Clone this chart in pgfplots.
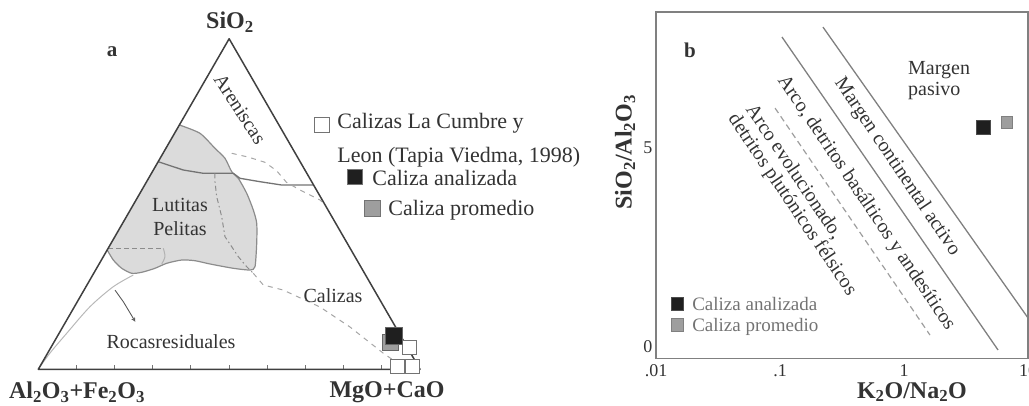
\documentclass[border=0pt]{standalone}
\usepackage{fontspec}
\setmainfont{Liberation Serif}
\usepackage{pgfplots}
\pgfplotsset{compat=1.18}
\definecolor{txt}{gray}{0.2}
\definecolor{frame}{gray}{0.5}
\definecolor{darksq}{gray}{0.12}
\definecolor{midsq}{gray}{0.62}
\definecolor{region}{gray}{0.86}
\begin{document}
\begin{tikzpicture}
\useasboundingbox (0,0) rectangle (1029pt,406pt);

% ---------------- ternary diagram (a) ----------------
\begin{axis}[
  at={(38.3pt,36.7pt)}, anchor=south west,
  scale only axis, width=381.7pt, height=331pt,
  xmin=0, xmax=1, ymin=0, ymax=0.8672,
  hide axis, clip=false,
  legend cell align=left,
  legend style={at={(0.7223,0.8166)}, anchor=north west, draw=none, fill=none,
    inner sep=0pt, outer sep=0pt, column sep=0pt, row sep=0pt,
    nodes={inner sep=0pt, outer sep=0pt, font=\fontsize{22pt}{26pt}\selectfont, text=txt}},
]
% Lutitas / Pelitas field
\addplot[forget plot, fill=region, draw=none, smooth, tension=0.4] coordinates {
 (0.370,0.640) (0.4236,0.6183) (0.4629,0.5790) (0.4891,0.5528) (0.5067,0.5177)
 (0.5240,0.5004) (0.5460,0.4611) (0.5633,0.4173) (0.5722,0.3825) (0.5722,0.3301)
 (0.5677,0.2688) (0.5546,0.2601) (0.5109,0.2646) (0.4498,0.2759) (0.4105,0.2845)
 (0.3757,0.2863) (0.3364,0.2777) (0.3057,0.2646) (0.2709,0.2541) (0.2447,0.2515)
 (0.2185,0.2646) (0.1965,0.2863) (0.1805,0.3126)} -- cycle;
\addplot[forget plot, draw=black!45, line width=1.2pt, smooth, tension=0.4] coordinates {
 (0.370,0.640) (0.4236,0.6183) (0.4629,0.5790) (0.4891,0.5528) (0.5067,0.5177)
 (0.5240,0.5004) (0.5460,0.4611) (0.5633,0.4173) (0.5722,0.3825) (0.5722,0.3301)
 (0.5677,0.2688) (0.5546,0.2601) (0.5109,0.2646) (0.4498,0.2759) (0.4105,0.2845)
 (0.3757,0.2863) (0.3364,0.2777) (0.3057,0.2646) (0.2709,0.2541) (0.2447,0.2515)
 (0.2185,0.2646) (0.1965,0.2863) (0.1805,0.3126)};
% boundary lines
\addplot[forget plot, draw=black!55, line width=1.3pt] coordinates {
 (0.3140,0.5439) (0.3799,0.5221) (0.4323,0.5135) (0.5109,0.5135) (0.5284,0.5004)
 (0.5808,0.4915) (0.6377,0.4828) (0.7212,0.4828)};
\addplot[forget plot, draw=black!35, line width=1pt, dash pattern=on 5pt off 5pt] coordinates {
 (0.5067,0.5659) (0.5500,0.5560) (0.5939,0.5423) (0.6246,0.5200) (0.6500,0.4900)
 (0.6856,0.4698) (0.7380,0.4436) (0.7500,0.4330)};
\addplot[forget plot, draw=black!45, line width=1pt, dash pattern=on 5pt off 3pt on 1.5pt off 3pt] coordinates {
 (0.4629,0.5135) (0.4629,0.4915) (0.4674,0.4522) (0.4805,0.3998) (0.4891,0.3474)
 (0.5067,0.3212) (0.5240,0.2950) (0.5460,0.2688) (0.5633,0.2515)};
\addplot[forget plot, draw=black!35, line width=1pt, dash pattern=on 5pt off 5pt] coordinates {
 (0.5633,0.2515) (0.5895,0.2209) (0.6411,0.2078) (0.7380,0.1632) (0.8166,0.1108)
 (0.9031,0.0427) (0.9293,0.0244)};
\addplot[forget plot, draw=black!28, line width=1pt, smooth] coordinates {
 (0,0) (0.0307,0.0427) (0.0744,0.0943) (0.1354,0.1640) (0.1965,0.2164) (0.2489,0.2470)};
\addplot[forget plot, draw=black!45, line width=1pt, dash pattern=on 5pt off 3pt] coordinates {
 (0.1830,0.3170) (0.3275,0.3170)};
\addplot[forget plot, draw=black!30, line width=1pt, smooth] coordinates {
 (0.3275,0.3170) (0.3319,0.2950) (0.3233,0.2759)};
\addplot[forget plot, draw=black!65, line width=0.9pt, -stealth] coordinates {
 (0.2012,0.2071) (0.2227,0.1771) (0.2541,0.1247)};
% ticks on the base
\addplot[forget plot, ycomb, draw=black!55, line width=1pt] coordinates {
 (0.1,0.01) (0.2,0.01) (0.3,0.01) (0.4,0.01) (0.5,0.01) (0.6,0.01) (0.7,0.01) (0.8,0.01) (0.9,0.01)};
% triangle
\addplot[forget plot, draw=black!75, line width=1.5pt, line join=round] coordinates {
 (0,0) (1,0) (0.5,0.866)} -- cycle;
% samples
\addplot[forget plot, only marks, mark=square*, mark size=7pt,
  mark options={draw=black!55, fill=white, line width=1pt}] coordinates {
 (0.9712,0.0584) (0.9411,0.0073) (0.9803,0.0073)};
\addplot[forget plot, only marks, mark=square*, mark size=8pt,
  mark options={draw=black!60, fill=midsq, line width=0.8pt}] coordinates {(0.9214,0.0715)};
\addplot[forget plot, only marks, mark=square*, mark size=8.5pt,
  mark options={draw=black!60, fill=darksq, line width=0.8pt}] coordinates {(0.9306,0.0872)};
% legend
\addlegendimage{legend image code/.code={\draw[black!55, line width=1pt, fill=white] (0.5pt,-11pt) rectangle (15pt,3.5pt); \path[draw=none,fill=none] (0pt,0pt) -- (66pt,0pt);}}
\addlegendentry[text height=29.3pt, text depth=14.7pt]{\hspace*{-43pt}Calizas La Cumbre y}
\addlegendimage{legend image code/.code={\path[draw=none,fill=none] (0pt,0pt) -- (66pt,0pt);}}
\addlegendentry[text height=19.3pt, text depth=4.7pt]{\hspace*{-43pt}Leon (Tapia Viedma, 1998)}
\addlegendimage{legend image code/.code={\draw[black!55, line width=0.8pt, fill=darksq] (33pt,-6.2pt) rectangle (48pt,8.8pt); \path[draw=none,fill=none] (0pt,0pt) -- (66pt,0pt);}}
\addlegendentry[text height=18.3pt, text depth=3.7pt]{\hspace*{-8pt}Caliza analizada}
\addlegendimage{legend image code/.code={\draw[black!55, line width=0.8pt, fill=midsq] (50pt,-8pt) rectangle (66pt,8pt);}}
\addlegendentry[text height=26.3pt, text depth=11.7pt]{\hspace*{8pt}Caliza promedio}
\end{axis}

% ---------------- diagram (b) ----------------
\begin{axis}[
  at={(656pt,47.5pt)}, anchor=south west,
  scale only axis, width=372pt, height=346.5pt,
  xmode=log, xmin=0.01, xmax=10, ymin=-0.29, ymax=8.42,
  xtick={0.01,0.1,1,10}, xticklabels={.01,.1,1,10}, ytick={0,5},
  xminorticks=false, major tick length=0pt,
  axis line style={draw=frame, line width=1.8pt},
  tick label style={font=\fontsize{18pt}{21pt}\selectfont, text=txt},
  xticklabel style={yshift=-3pt},
  /pgf/number format/assume math mode=true,
  xlabel={K\textsubscript{2}O/Na\textsubscript{2}O},
  ylabel={SiO\textsubscript{2}/Al\textsubscript{2}O\textsubscript{3}},
  label style={font=\fontsize{24pt}{28pt}\selectfont\bfseries, text=txt},
  xlabel style={at={(axis description cs:0.688,-0.097)}, anchor=center},
  ylabel style={at={(axis description cs:-0.083,0.596)}, anchor=center},
  legend cell align=left,
  legend style={at={(0.039,0.1876)}, anchor=north west, draw=none, fill=none,
    inner sep=0pt, outer sep=0pt, column sep=8.5pt, row sep=0pt,
    nodes={inner sep=0pt, outer sep=0pt, text height=16.8pt, text depth=4.2pt,
      font=\fontsize{19pt}{22pt}\selectfont, text=black!55}},
]
\addplot[forget plot, draw=black!50, line width=1.3pt] coordinates {(0.2222,8.04) (10,0.73)};
\addplot[forget plot, draw=black!50, line width=1.3pt] coordinates {(0.1038,7.79) (5.73,-0.075)};
\addplot[forget plot, draw=black!38, line width=1.2pt, dash pattern=on 6pt off 4pt] coordinates {(0.0912,6.005) (1.62,0.30)};
\addplot[only marks, mark=square*, mark size=7pt, mark options={draw=black!70, fill=darksq, line width=0.8pt},
  legend image code/.code={\draw[fill=darksq, draw=black!70, line width=0.8pt] (0pt,-6.25pt) rectangle (12.5pt,6.25pt);}]
  coordinates {(4.34,5.53)};
\addlegendentry{Caliza analizada}
\addplot[only marks, mark=square*, mark size=5.8pt, mark options={draw=black!50, fill=midsq, line width=0.8pt},
  legend image code/.code={\draw[fill=midsq, draw=black!50, line width=0.8pt] (0pt,-6.25pt) rectangle (12.5pt,6.25pt);}]
  coordinates {(6.77,5.65)};
\addlegendentry{Caliza promedio}
\end{axis}

% ---------------- text labels ----------------
\begin{scope}[x=1pt, y=-1pt, shift={(0pt,406pt)},
  every node/.style={inner sep=0pt, text=txt, font=\fontsize{20pt}{24pt}\selectfont}]
\node[font=\fontsize{21pt}{24pt}\selectfont\bfseries] at (112,52) {a};
\node[font=\fontsize{24pt}{28pt}\selectfont\bfseries] at (230,22) {SiO\textsubscript{2}};
\node[font=\fontsize{24pt}{28pt}\selectfont\bfseries] at (77,392) {Al\textsubscript{2}O\textsubscript{3}+Fe\textsubscript{2}O\textsubscript{3}};
\node[font=\fontsize{24pt}{28pt}\selectfont\bfseries] at (387,392) {MgO+CaO};
\node[rotate=-57] at (240,109) {Areniscas};
\node at (180,205) {Lutitas};
\node at (180,228.5) {Pelitas};
\node at (333,295.5) {Calizas};
\node at (171,341.7) {Rocasresiduales};
\node[font=\fontsize{21pt}{24pt}\selectfont\bfseries] at (690,50) {b};
\node[anchor=west] at (908,70) {Margen};
\node[anchor=west] at (908,91) {pasivo};
\node[rotate=-56] at (897,167) {Margen continental activo};
\node[rotate=-56] at (866,203) {Arco, detritos basálticos y andesíticos};
\node[rotate=-56] at (794,172) {Arco evolucionado,};
\node[rotate=-56] at (792,205) {detritos plutónicos félsicos};
\end{scope}
\end{tikzpicture}
\end{document}
